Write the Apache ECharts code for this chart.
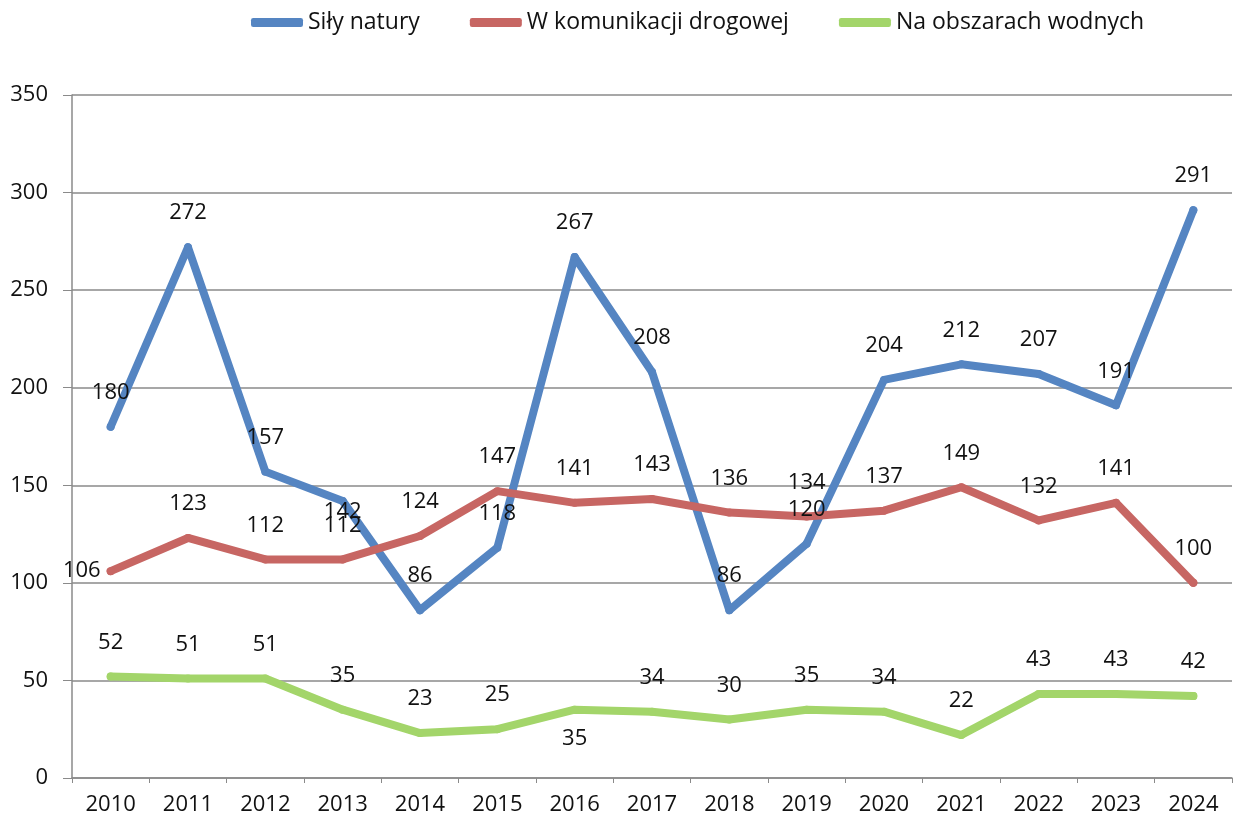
<!DOCTYPE html>
<html>
<head>
<meta charset="utf-8">
<script src="https://cdn.jsdelivr.net/npm/echarts@6/dist/echarts.min.js"></script>
<style>
  html, body { margin: 0; padding: 0; background: #fff; }
  #chart { width: 1233px; height: 823px; }
</style>
</head>
<body>
<div id="chart"></div>
<script>
// dane z wykresu
const years = ['2010', '2011', '2012', '2013', '2014', '2015', '2016', '2017', '2018', '2019', '2020', '2021', '2022', '2023', '2024'];
const silyNatury = [180, 272, 157, 142, 86, 118, 267, 208, 86, 120, 204, 212, 207, 191, 291];
const komunikacjaDrogowa = [106, 123, 112, 112, 124, 147, 141, 143, 136, 134, 137, 149, 132, 141, 100];
const obszaryWodne = [52, 51, 51, 35, 23, 25, 35, 34, 30, 35, 34, 22, 43, 43, 42];

const FONT = "'Open Sans', 'Noto Sans', sans-serif";

// etykiety, ktore w oryginale nie stoja nad punktem
const labelTweaks = {
  blue: { 3: { position: 'inside', offset: [0, 11] } },
  red: { 0: { position: 'left', distance: 6 } },
  green: { 6: { position: 'bottom', distance: 14 } }
};

function withLabels(values, tweaks) {
  return values.map((v, i) => tweaks[i] ? { value: v, label: tweaks[i] } : v);
}

function makeSeries(name, values, color, tweaks) {
  return {
    name: name,
    type: 'line',
    data: withLabels(values, tweaks),
    symbol: 'circle',
    symbolSize: 8,
    itemStyle: { color: color },
    lineStyle: { color: color, width: 8, cap: 'round', join: 'round' },
    label: {
      show: true,
      position: 'top',
      distance: 19,
      color: '#111',
      fontSize: 22,
      fontFamily: FONT
    },
    emphasis: { disabled: true },
    animation: false
  };
}

const chart = echarts.init(document.getElementById('chart'));
chart.setOption({
  backgroundColor: '#fff',
  legend: {
    left: 246,
    top: 6,
    itemGap: 50,
    itemWidth: 52,
    itemHeight: 9,
    icon: 'roundRect',
    textStyle: { fontSize: 23, fontFamily: FONT, color: '#111' },
    data: ['Siły natury', 'W komunikacji drogowej', 'Na obszarach wodnych']
  },
  grid: { left: 72, right: 1, top: 95, bottom: 45 },
  xAxis: {
    type: 'category',
    data: years,
    boundaryGap: true,
    axisLine: { lineStyle: { color: '#8a8a8a', width: 1.5 } },
    axisTick: { show: true, interval: 0, length: 5, lineStyle: { color: '#8a8a8a' } },
    axisLabel: { fontSize: 22, fontFamily: FONT, color: '#111', margin: 16, interval: 0 }
  },
  yAxis: {
    type: 'value',
    min: 0,
    max: 350,
    interval: 50,
    axisLine: { show: true, lineStyle: { color: '#8a8a8a', width: 1.5 } },
    axisTick: { show: true, length: 9, lineStyle: { color: '#8a8a8a' } },
    axisLabel: { fontSize: 22, fontFamily: FONT, color: '#111', margin: 24 },
    splitLine: { lineStyle: { color: '#8a8a8a', width: 1.5 } }
  },
  series: [
    makeSeries('Siły natury', silyNatury, '#5585c2', labelTweaks.blue),
    makeSeries('W komunikacji drogowej', komunikacjaDrogowa, '#c76663', labelTweaks.red),
    makeSeries('Na obszarach wodnych', obszaryWodne, '#a3d56a', labelTweaks.green)
  ]
});
</script>
</body>
</html>
